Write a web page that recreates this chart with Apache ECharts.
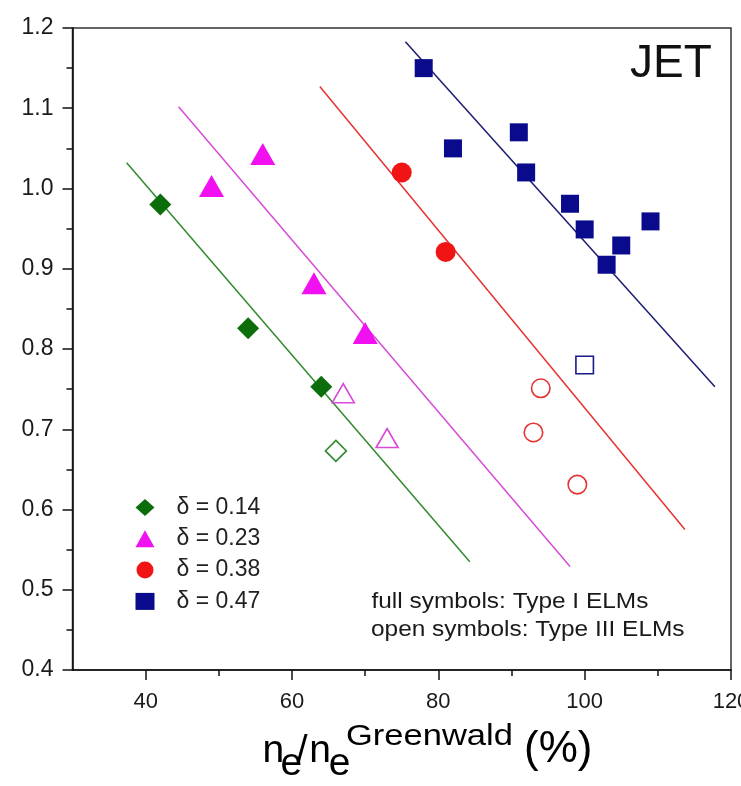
<!DOCTYPE html>
<html>
<head>
<meta charset="utf-8">
<script src="https://cdn.jsdelivr.net/npm/echarts@6/dist/echarts.min.js"></script>
<style>
  html, body { margin: 0; padding: 0; background: #fff; }
  #chart { width: 741px; height: 786px; }
</style>
</head>
<body>
<div id="chart"></div>
<script>
// Measured points: [n_e / n_e^Greenwald (%), value]
const d014Full = [[42, 0.980], [54, 0.826], [64, 0.753]];
const d014Open = [[66, 0.673]];
const d023Full = [[49, 1.003], [56, 1.043], [63, 0.882], [70, 0.820]];
const d023Open = [[67, 0.745], [73, 0.689]];
const d038Full = [[75, 1.020], [81, 0.921]];
const d038Open = [[94, 0.751], [93, 0.696], [99, 0.631]];
const d047Full = [[78, 1.150], [82, 1.050], [91, 1.070], [92, 1.020], [98, 0.981],
                  [100, 0.949], [103, 0.905], [105, 0.929], [109, 0.959]];
const d047Open = [[100, 0.780]];

// Linear fits, given by their end points
const fit014 = [[37.4, 1.032], [84.3, 0.535]];
const fit023 = [[44.5, 1.102], [98.0, 0.529]];
const fit038 = [[63.8, 1.127], [113.7, 0.575]];
const fit047 = [[75.5, 1.183], [117.8, 0.753]];

const groupNames = ['δ = 0.14', 'δ = 0.23', 'δ = 0.38', 'δ = 0.47'];
const xMajorTicks = [40, 60, 80, 100, 120];
const xMinorTicks = [50, 70, 90, 110];

const FONT = '"Liberation Sans", Arial, Helvetica, sans-serif';
const markerColors = ['#0b6e0b', '#f010f0', '#f01414', '#0a0a8c'];
const openColors = ['#2f8a2f', '#d84ad8', '#e63232', '#1a1a8a'];
const lineColors = ['#2f8a2f', '#d84ad8', '#e63232', '#1c1c70'];
const symbols = ['diamond', 'triangle', 'circle', 'rect'];
const fullSizes = [22, [25, 22], 20, 18];
const openSizes = [21, [22, 19], 18.5, 17.5];
const fullData = [d014Full, d023Full, d038Full, d047Full];
const openData = [d014Open, d023Open, d038Open, d047Open];
const fitData = [fit014, fit023, fit038, fit047];

const series = [];
fitData.forEach((d, i) => {
  series.push({
    name: 'fit ' + groupNames[i], type: 'line', data: d, showSymbol: false,
    lineStyle: { color: lineColors[i], width: 1.5 }, z: 1, silent: true
  });
});
fullData.forEach((d, i) => {
  series.push({
    name: groupNames[i], type: 'scatter', data: d, symbol: symbols[i],
    symbolSize: fullSizes[i], itemStyle: { color: markerColors[i], opacity: 1 }, z: 3
  });
});
openData.forEach((d, i) => {
  series.push({
    name: groupNames[i] + ' (Type III)', type: 'scatter', data: d, symbol: symbols[i],
    symbolSize: openSizes[i],
    itemStyle: { color: 'rgba(255,255,255,0)', borderColor: openColors[i], borderWidth: 1.6, opacity: 1 },
    z: 3
  });
});

const chart = echarts.init(document.getElementById('chart'));
chart.setOption({
  animation: false,
  backgroundColor: '#fff',
  grid: {
    left: 72.5, right: 10, top: 28, bottom: 116, outerBoundsMode: 'none', containLabel: false,
    show: true, borderColor: '#333', borderWidth: 1.5, backgroundColor: 'transparent'
  },
  xAxis: [{
    type: 'value', min: 30, max: 120, position: 'bottom',
    axisLine: { show: true, lineStyle: { color: '#111', width: 1.6 } },
    axisTick: { show: true, customValues: xMajorTicks, length: 10, inside: false, lineStyle: { color: '#111', width: 1.5 } },
    axisLabel: { customValues: xMajorTicks, fontFamily: FONT, fontSize: 22, color: '#1a1a1a', margin: 21 },
    splitLine: { show: false }
  }, {
    type: 'value', min: 30, max: 120, position: 'bottom',
    axisLine: { show: false },
    axisTick: { show: true, customValues: xMinorTicks, length: 6, inside: false, lineStyle: { color: '#111', width: 1.5 } },
    axisLabel: { show: false },
    splitLine: { show: false }
  }],
  yAxis: {
    type: 'value', min: 0.4, max: 1.2, interval: 0.1,
    axisLine: { show: true, lineStyle: { color: '#111', width: 1.6 } },
    axisTick: { show: true, length: 10, lineStyle: { color: '#111', width: 1.5 } },
    minorTick: { show: true, splitNumber: 2, length: 6, lineStyle: { color: '#111', width: 1.5 } },
    axisLabel: { fontFamily: FONT, fontSize: 23, color: '#1a1a1a', margin: 19,
                 formatter: v => v.toFixed(1) },
    splitLine: { show: false }
  },
  legend: {
    orient: 'vertical', left: 130.5, top: 490.5, itemGap: 7.3,
    itemWidth: 19, itemHeight: 17, selectedMode: false,
    data: groupNames,
    textStyle: { fontFamily: FONT, fontSize: 23, color: '#222', lineHeight: 24, padding: [0, 0, 0, 17] }
  },
  graphic: [
    { type: 'text', x: 630, y: 64, style: { text: 'JET', font: '46px ' + FONT, fill: '#111', verticalAlign: 'middle' } },
    { type: 'text', x: 371.5, y: 602.4, scaleX: 1.11,
      style: { text: 'full symbols: Type I ELMs', font: '22px ' + FONT, fill: '#1a1a1a', verticalAlign: 'middle' } },
    { type: 'text', x: 371, y: 630.4, scaleX: 1.11,
      style: { text: 'open symbols: Type III ELMs', font: '22px ' + FONT, fill: '#1a1a1a', verticalAlign: 'middle' } },
    // x-axis title: n_e / n_e^Greenwald (%)
    { type: 'text', x: 262.5, y: 751.7, style: { text: 'n', font: '39px ' + FONT, fill: '#000', verticalAlign: 'middle' } },
    { type: 'text', x: 280.5, y: 764.3, style: { text: 'e', font: '39px ' + FONT, fill: '#000', verticalAlign: 'middle' } },
    { type: 'text', x: 296.7, y: 751.7, style: { text: '/', font: '39px ' + FONT, fill: '#000', verticalAlign: 'middle' } },
    { type: 'text', x: 309.2, y: 751.7, style: { text: 'n', font: '39px ' + FONT, fill: '#000', verticalAlign: 'middle' } },
    { type: 'text', x: 328.8, y: 764.3, style: { text: 'e', font: '39px ' + FONT, fill: '#000', verticalAlign: 'middle' } },
    { type: 'text', x: 346, y: 736.6, scaleX: 1.15,
      style: { text: 'Greenwald', font: '30px ' + FONT, fill: '#000', verticalAlign: 'middle' } },
    { type: 'text', x: 524, y: 749.8, style: { text: '(%)', font: '44px ' + FONT, fill: '#000', verticalAlign: 'middle' } }
  ],
  series: series
});
</script>
</body>
</html>
